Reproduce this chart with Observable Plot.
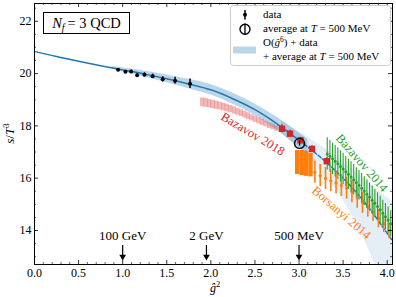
<!DOCTYPE html>
<html><head><meta charset="utf-8">
<script src="https://cdn.jsdelivr.net/npm/d3@7"></script>
<script src="https://cdn.jsdelivr.net/npm/@observablehq/plot@0.6"></script>
<style>
body{margin:0;background:#fff;}
#wrap{position:relative;width:396px;height:297px;}
#wrap svg{position:absolute;left:0;top:0;}
</style></head><body><div id="wrap"></div>
<script>
// ---------- data ----------
const fitX = [0, 0.25, 0.5, 0.75, 1.0, 1.25, 1.5, 1.75, 2.0, 2.25, 2.5, 2.75, 3.0, 3.25, 3.5, 3.75, 4.06];
const fitY = [20.85, 20.65, 20.47, 20.30, 20.14, 19.98, 19.80, 19.60, 19.38, 19.04, 18.62, 18.08, 17.45, 16.78, 16.0, 15.05, 13.6];

const bandX  = [0.88, 1.25, 1.5, 1.75, 2.0, 2.25, 2.5, 2.75, 3.0, 3.1];
const bandLo = [20.17, 19.86, 19.65, 19.42, 19.18, 18.83, 18.40, 17.83, 17.17, 16.89];
const bandHi = [20.27, 20.10, 19.95, 19.78, 19.58, 19.25, 18.84, 18.33, 17.73, 17.49];

const extX  = [2.8, 3.0, 3.2, 3.4, 3.6, 3.8, 4.06];
const extLo = [17.72, 17.10, 16.45, 15.65, 14.6, 13.2, 11.0];
const extHi = [18.2, 17.78, 17.35, 16.9, 16.35, 15.8, 15.1];

const dataX   = [0.948, 1.031, 1.096, 1.164, 1.247, 1.340, 1.454, 1.594, 1.764];
const dataY   = [20.15, 20.07, 20.08, 19.94, 19.96, 19.90, 19.78, 19.73, 19.61];
const dataErr = [0.04, 0.05, 0.05, 0.06, 0.07, 0.08, 0.10, 0.13, 0.18];

const avgX = [3.006], avgY = [17.33], avgErr = [0.10];

const baz18X   = [2.807, 2.898, 3.017, 3.147, 3.315];
const baz18Y   = [17.89, 17.70, 17.45, 17.12, 16.65];
const baz18Err = [0.15, 0.13, 0.12, 0.12, 0.12];

const baz18cX   = [1.90, 1.94, 1.98, 2.02, 2.06, 2.10, 2.14, 2.18, 2.22, 2.26, 2.30, 2.34, 2.38, 2.42, 2.46, 2.50, 2.54, 2.58, 2.62, 2.66, 2.70, 2.74];
const baz18cY   = [18.90, 18.88, 18.85, 18.82, 18.79, 18.76, 18.72, 18.68, 18.64, 18.59, 18.54, 18.49, 18.43, 18.37, 18.31, 18.25, 18.19, 18.13, 18.07, 18.01, 17.96, 17.90];
const baz18cErr = [0.17, 0.17, 0.16, 0.16, 0.16, 0.15, 0.15, 0.15, 0.14, 0.14, 0.14, 0.13, 0.13, 0.13, 0.12, 0.12, 0.12, 0.12, 0.11, 0.11, 0.11, 0.10];

const borThickX   = [2.98, 3.03, 3.08, 3.13];
const borThickY   = [16.60, 16.58, 16.55, 16.50];
const borThickErr = [0.46, 0.48, 0.48, 0.45];
const borX   = [3.18, 3.24, 3.30, 3.36, 3.42, 3.48, 3.54, 3.60, 3.66, 3.72, 3.78, 3.84, 3.90, 3.96, 4.02];
const borY   = [16.23, 16.10, 15.99, 15.90, 15.82, 15.72, 15.62, 15.48, 15.25, 15.05, 14.90, 14.70, 14.45, 14.25, 14.00];
const borErr = [0.42, 0.42, 0.42, 0.42, 0.42, 0.42, 0.42, 0.42, 0.40, 0.40, 0.38, 0.36, 0.35, 0.33, 0.30];

const baz14X = [3.32, 3.35, 3.38, 3.41, 3.44, 3.47, 3.50, 3.53, 3.56, 3.59, 3.62, 3.65, 3.68, 3.71, 3.74, 3.77, 3.80, 3.83, 3.86, 3.89, 3.92, 3.95, 3.98, 4.01, 4.04];
const baz14Y = [16.93, 16.84, 16.74, 16.65, 16.55, 16.45, 16.35, 16.25, 16.15, 16.05, 15.94, 15.84, 15.73, 15.62, 15.51, 15.39, 15.28, 15.16, 15.04, 14.92, 14.79, 14.66, 14.53, 14.40, 14.26];
const baz14Err = [0.62, 0.6, 0.6, 0.6, 0.6, 0.6, 0.6, 0.58, 0.58, 0.58, 0.58, 0.56, 0.56, 0.56, 0.55, 0.55, 0.54, 0.54, 0.53, 0.52, 0.52, 0.5, 0.5, 0.5, 0.5];

const annX = [1.0, 1.95, 3.0];
const annLabels = ["100 GeV", "2 GeV", "500 MeV"];

const xMajor = [0, 0.5, 1.0, 1.5, 2.0, 2.5, 3.0, 3.5, 4.0];
const xMinor = [0.1,0.2,0.3,0.4,0.6,0.7,0.8,0.9,1.1,1.2,1.3,1.4,1.6,1.7,1.8,1.9,2.1,2.2,2.3,2.4,2.6,2.7,2.8,2.9,3.1,3.2,3.3,3.4,3.6,3.7,3.8,3.9];
const yMajor = [14, 16, 18, 20, 22];
const yMinor = [13, 13.5, 14.5, 15, 15.5, 16.5, 17, 17.5, 18.5, 19, 19.5, 20.5, 21, 21.5, 22.5];

const labels = [
  {x: 2.476, y: 17.69, text: "Bazavov 2018", rotate: 31, color: "#d62728"},
  {x: 3.713, y: 16.58, text: "Bazavov 2014", rotate: 49, color: "#2ca02c"},
  {x: 3.48, y: 14.68, text: "Borsanyi 2014", rotate: 41, color: "#ff7f0e"}
];

// ---------- tables ----------
const zip = (xs, ys, es) => xs.map((x, i) => ({x, y: ys[i], e: es ? es[i] : 0}));
const fit = zip(fitX, fitY);
const band = bandX.map((x, i) => ({x, lo: bandLo[i], hi: bandHi[i]}));
const ext = extX.map((x, i) => ({x, lo: extLo[i], hi: extHi[i]}));
const data = zip(dataX, dataY, dataErr);
const avg = zip(avgX, avgY, avgErr);
const baz18 = zip(baz18X, baz18Y, baz18Err);
const baz18c = zip(baz18cX, baz18cY, baz18cErr);
const borThick = zip(borThickX, borThickY, borThickErr);
const bor = zip(borX, borY, borErr);
const baz14 = zip(baz14X, baz14Y, baz14Err);
const ann = annX.map((x, i) => ({x, label: annLabels[i]}));

const W = 396, H = 297, mt = 3, mb = 33, ml = 34, mr = 4;
const pH = H - mt - mb, pW = W - ml - mr;
const serif = "'Liberation Serif','Times New Roman',serif";
const blue = "#1f77b4";

const eb = (d, color, sw, op = 1) => Plot.ruleX(d, {x: "x", y1: r => r.y - r.e, y2: r => r.y + r.e, stroke: color, strokeWidth: sw, strokeOpacity: op});

const chart = Plot.plot({
  width: W, height: H, marginTop: mt, marginBottom: mb, marginLeft: ml, marginRight: mr,
  style: {fontFamily: serif, fontSize: "12px", background: "white", color: "black", overflow: "visible"},
  x: {domain: [0, 4.06]},
  y: {domain: [12.7, 22.68]},
  marks: [
    Plot.areaY(ext, {x: "x", y1: "lo", y2: "hi", fill: blue, fillOpacity: 0.12, curve: "catmull-rom", clip: true}),
    Plot.areaY(band, {x: "x", y1: "lo", y2: "hi", fill: blue, fillOpacity: 0.3, curve: "catmull-rom"}),
    eb(baz18c, "#e0474a", 4.2, 0.38),
    Plot.line(fit.filter(d => d.x <= 3.0), {x: "x", y: "y", stroke: blue, strokeWidth: 1.5, curve: "catmull-rom"}),
    Plot.line(fit.filter(d => d.x >= 3.0), {x: "x", y: "y", stroke: blue, strokeWidth: 1.5, strokeDasharray: "4,2", curve: "catmull-rom"}),
    eb(borThick, "#ff7f0e", 4.5),
    eb(bor, "#ff7f0e", 1.6),
    Plot.dot(borThick, {x: "x", y: "y", r: 1.6, fill: "#ff7f0e"}),
    Plot.dot(bor, {x: "x", y: "y", r: 1.6, fill: "#ff7f0e"}),
    eb(baz14, "#2ca02c", 1.1),
    Plot.dot(baz14, {x: "x", y: "y", r: 1.5, fill: "#2ca02c"}),
    eb(baz18, "#d62728", 1.5),
    Plot.dot(baz18, {x: "x", y: "y", r: 3.6, symbol: "square", fill: "#d62728"}),
    eb(data, "black", 1.5),
    Plot.dot(data, {x: "x", y: "y", r: 2, fill: "black"}),
    eb(avg, "black", 1.3),
    Plot.dot(avg, {x: "x", y: "y", r: 5, stroke: "black", strokeWidth: 1.4, fill: "none"}),
    // annotations
    Plot.ruleX(ann, {x: "x", insetTop: pH - 19, insetBottom: 8, stroke: "black", strokeWidth: 1.2}),
    Plot.dot(ann, {x: "x", frameAnchor: "bottom", dy: -7.9, symbol: "triangle", rotate: 180, r: 2.5, fill: "black"}),
    Plot.text(ann, {x: "x", frameAnchor: "bottom", dy: -25, text: "label", fontSize: 13, fill: "black"}),
    Plot.text(labels, {x: "x", y: "y", text: "text", rotate: "rotate", fill: d => d.color, fontSize: 12.5}),
    // ticks (inward, all four sides)
    Plot.tickX(xMajor, {x: d => d, insetTop: pH - 4, strokeWidth: 0.8}),
    Plot.tickX(xMajor, {x: d => d, insetBottom: pH - 4, strokeWidth: 0.8}),
    Plot.tickX(xMinor, {x: d => d, insetTop: pH - 2, strokeWidth: 0.6}),
    Plot.tickX(xMinor, {x: d => d, insetBottom: pH - 2, strokeWidth: 0.6}),
    Plot.tickY(yMajor, {y: d => d, insetRight: pW - 4, strokeWidth: 0.8}),
    Plot.tickY(yMajor, {y: d => d, insetLeft: pW - 4, strokeWidth: 0.8}),
    Plot.tickY(yMinor, {y: d => d, insetRight: pW - 2, strokeWidth: 0.6}),
    Plot.tickY(yMinor, {y: d => d, insetLeft: pW - 2, strokeWidth: 0.6}),
    Plot.axisX({ticks: xMajor, tickSize: 0, tickPadding: 4, tickFormat: d => d.toFixed(1), label: null, fontSize: 12}),
    Plot.axisY({ticks: yMajor, tickSize: 0, tickPadding: 3, label: null, fontSize: 12}),
    Plot.frame({stroke: "black", strokeWidth: 1})
  ]
});
document.getElementById("wrap").appendChild(chart);

// ---------- overlay: legend, text box, axis labels ----------
const ov = d3.select("#wrap").append("svg").attr("width", W).attr("height", H)
  .style("font-family", serif).style("pointer-events", "none");

// Nf box
ov.append("rect").attr("x", 43.5).attr("y", 12.5).attr("width", 86).attr("height", 21)
  .attr("fill", "white").attr("stroke", "black").attr("stroke-width", 1);
const nf = ov.append("text").attr("x", 86.5).attr("y", 27.5).attr("text-anchor", "middle").attr("font-size", 14.5);
nf.append("tspan").attr("font-style", "italic").text("N");
nf.append("tspan").attr("font-style", "italic").attr("font-size", 10).attr("dy", 3).text("f");
nf.append("tspan").attr("dy", -3).text("\u2009= 3 QCD");

// legend box
ov.append("rect").attr("x", 230.5).attr("y", 5.5).attr("width", 160).attr("height", 60).attr("rx", 3)
  .attr("fill", "white").attr("fill-opacity", 0.85).attr("stroke", "#cccccc").attr("stroke-width", 1);
ov.append("line").attr("x1", 245).attr("x2", 245).attr("y1", 10).attr("y2", 19.5).attr("stroke", "black").attr("stroke-width", 1.5);
ov.append("circle").attr("cx", 245).attr("cy", 14.8).attr("r", 2).attr("fill", "black");
ov.append("line").attr("x1", 245).attr("x2", 245).attr("y1", 23.5).attr("y2", 35).attr("stroke", "black").attr("stroke-width", 1.3);
ov.append("circle").attr("cx", 245).attr("cy", 29.3).attr("r", 5).attr("fill", "none").attr("stroke", "black").attr("stroke-width", 1.4);
ov.append("rect").attr("x", 233).attr("y", 46.5).attr("width", 23).attr("height", 7).attr("fill", blue).attr("fill-opacity", 0.3);

const lt = (y) => ov.append("text").attr("x", 263).attr("y", y).attr("font-size", 11).attr("fill", "black");
lt(18.3).text("data");
const l2 = lt(32.3); l2.append("tspan").text("average at "); l2.append("tspan").attr("font-style", "italic").text("T"); l2.append("tspan").text(" = 500 MeV");
const l3 = lt(46.2); l3.append("tspan").text("O("); l3.append("tspan").attr("font-style", "italic").text("\u011D");
l3.append("tspan").attr("font-size", 7.5).attr("dy", -4).text("6"); l3.append("tspan").attr("dy", 4).text(") + data");
const l4 = lt(59.5); l4.append("tspan").text("+ average at "); l4.append("tspan").attr("font-style", "italic").text("T"); l4.append("tspan").text(" = 500 MeV");

// axis labels
const xl = ov.append("text").attr("x", 215).attr("y", 292).attr("text-anchor", "middle").attr("font-size", 12);
xl.append("tspan").attr("font-style", "italic").text("\u011D");
xl.append("tspan").attr("font-size", 8.5).attr("dy", -5).text("2");
const yl = ov.append("text").attr("transform", "translate(14,133.5) rotate(-90)").attr("text-anchor", "middle").attr("font-size", 13);
yl.append("tspan").attr("font-style", "italic").text("s");
yl.append("tspan").text("/");
yl.append("tspan").attr("font-style", "italic").text("T");
yl.append("tspan").attr("font-size", 9).attr("dy", -5).text("3");
</script></body></html>
